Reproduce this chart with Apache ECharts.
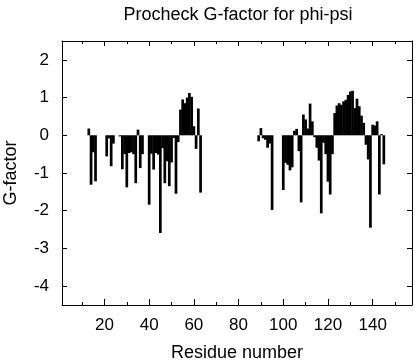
<!DOCTYPE html>
<html>
<head>
<meta charset="utf-8">
<script src="https://cdn.jsdelivr.net/npm/echarts@6/dist/echarts.min.js"></script>
<style>html,body{margin:0;padding:0;background:#fff}#c{width:416px;height:360px}</style>
</head>
<body>
<div id="c"></div>
<script>
const residues = [13,14,15,16,21,22,23,24,27,28,29,30,31,32,33,34,35,36,37,40,41,42,43,44,45,46,47,48,49,50,51,52,53,54,55,56,57,58,59,60,61,62,63,
  89,90,91,92,93,94,95,100,101,102,103,104,105,106,107,108,109,110,111,112,113,114,115,116,117,118,119,120,121,122,123,124,125,126,127,128,129,130,131,132,133,134,135,136,137,138,139,140,141,142,143,144,145];
const gFactor = [0.18,-1.31,-0.45,-1.22,-0.56,-0.08,-0.82,-0.22,-0.03,-0.90,-0.50,-1.38,-0.47,-0.45,-0.50,-1.27,0.15,-0.87,-0.50,-1.84,-0.49,-0.91,-0.47,-0.51,-2.59,-0.34,-1.27,-0.69,-1.35,-0.72,-0.07,-1.55,-0.18,0.68,0.95,0.85,1.00,1.12,1.02,0.24,-0.36,0.71,-1.52,
  -0.16,0.19,-0.08,-0.12,-0.33,-0.22,-1.98,-1.45,-0.73,-0.78,-0.93,-0.85,0.12,0.17,-0.42,-1.78,0.55,0.42,0.18,0.84,0.37,-0.05,-0.33,-0.67,-2.07,-0.20,-0.50,-1.23,-1.57,-0.50,0.59,0.79,0.85,0.81,0.90,0.94,1.07,1.16,1.18,0.72,0.97,0.77,0.52,0.33,-0.25,-0.64,-2.45,0.28,0.26,0.37,-1.57,0.03,-0.77];
const xMajorTicks = [20,40,60,80,100,120,140];
const xMinorTicks = [10,30,50,70,90,110,130,150];
const yTicks = [-4,-3,-2,-1,0,1,2];

const FONT = 'Liberation Sans';
const chart = echarts.init(document.getElementById('c'), null, {renderer:'canvas'});
const black = {color:'#000', width:1};
function xAxisDef(pos, ticks, len, showLabel, showLine, extra){
  return Object.assign({
    type:'value', min:1, max:157.6, position:pos,
    axisLine:{show:showLine, onZero:false, lineStyle:black},
    axisTick:{show:true, inside:true, length:len, customValues:ticks, lineStyle:black},
    axisLabel:{show:showLabel, customValues:xMajorTicks, fontFamily:FONT, fontSize:17, color:'#000', margin:12},
    splitLine:{show:false}
  }, extra||{});
}
chart.setOption({
  animation:false,
  title:{text:'Procheck G-factor for phi-psi', left:233, textAlign:'center', top:1,
    textStyle:{fontFamily:FONT, fontSize:18, fontWeight:'normal', color:'#000'}},
  grid:{left:62, right:4, top:41, bottom:55, containLabel:false, outerBoundsMode:'none'},
  xAxis:[
    xAxisDef('bottom', xMajorTicks, 6, true, true, {name:'Residue number', nameLocation:'middle', nameGap:39,
      nameTextStyle:{fontFamily:FONT, fontSize:18, color:'#000'}}),
    xAxisDef('bottom', xMinorTicks, 3, false, false),
    xAxisDef('top', xMajorTicks, 5, false, true),
    xAxisDef('top', xMinorTicks, 3, false, false)
  ],
  yAxis:[
    {type:'value', min:-4.5, max:2.5, position:'left',
      axisLine:{show:true, onZero:false, lineStyle:black},
      axisTick:{show:true, inside:true, length:5, customValues:yTicks, lineStyle:black},
      axisLabel:{customValues:yTicks, fontFamily:FONT, fontSize:17, color:'#000', margin:13},
      splitLine:{show:false},
      name:'G-factor', nameLocation:'middle', nameGap:42, nameRotate:90,
      nameTextStyle:{fontFamily:FONT, fontSize:18, color:'#000'}},
    {type:'value', min:-4.5, max:2.5, position:'right',
      axisLine:{show:true, onZero:false, lineStyle:black},
      axisTick:{show:true, inside:true, length:5, customValues:yTicks, lineStyle:black},
      axisLabel:{show:false}, splitLine:{show:false}}
  ],
  series:[{
    type:'bar', xAxisIndex:0, yAxisIndex:0,
    data: residues.map((r,i)=>[r, gFactor[i]]),
    barWidth:2.7,
    itemStyle:{color:'#000'}
  }]
});
</script>
</body>
</html>
